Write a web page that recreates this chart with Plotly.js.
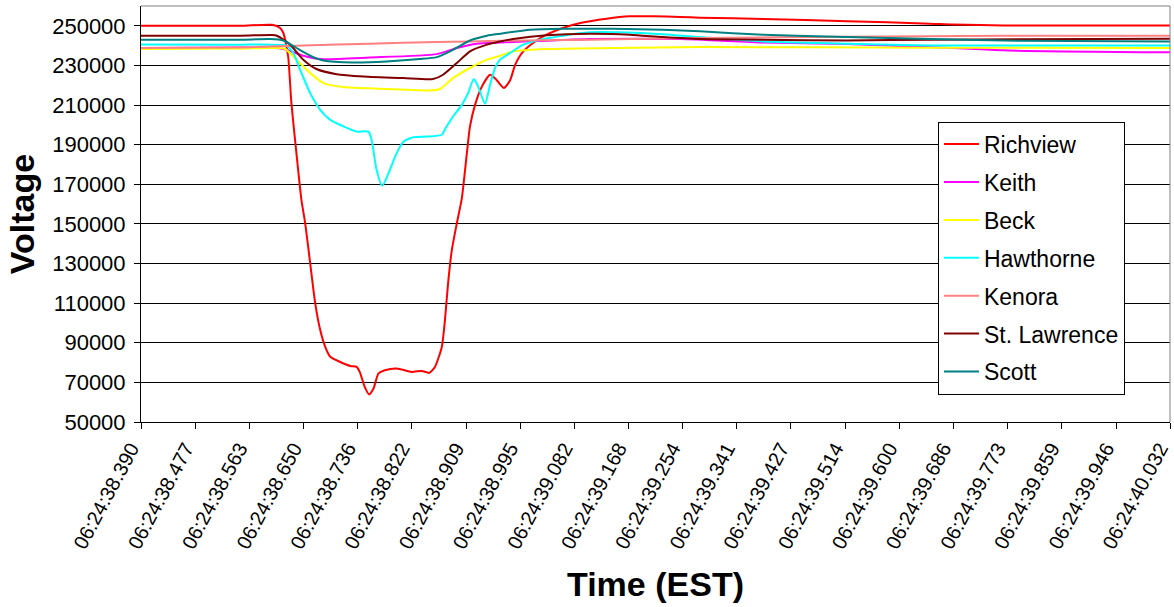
<!DOCTYPE html>
<html>
<head>
<meta charset="utf-8">
<script src="https://cdn.plot.ly/plotly-3.0.1.min.js"></script>
<style>html,body{margin:0;padding:0;background:#fff;}#chart{width:1174px;height:607px;}</style>
</head>
<body>
<div id="chart"></div>
<script>
// Tick labels on the time axis
const timeLabels = ["06:24:38.390","06:24:38.477","06:24:38.563","06:24:38.650","06:24:38.736","06:24:38.822","06:24:38.909","06:24:38.995","06:24:39.082","06:24:39.168","06:24:39.254","06:24:39.341","06:24:39.427","06:24:39.514","06:24:39.600","06:24:39.686","06:24:39.773","06:24:39.859","06:24:39.946","06:24:40.032"];
const voltageTicks = [50000,70000,90000,110000,130000,150000,170000,190000,210000,230000,250000];

// Series: time in seconds after 06:24:00, voltage in volts
const richviewT = [38.390,38.548,38.599,38.612,38.617,38.620,38.625,38.630,38.638,38.646,38.652,38.660,38.668,38.676,38.684,38.692,38.708,38.724,38.734,38.739,38.747,38.754,38.761,38.769,38.779,38.798,38.822,38.838,38.850,38.859,38.870,38.875,38.880,38.886,38.894,38.902,38.910,38.915,38.923,38.934,38.947,38.955,38.969,38.979,38.987,39.000,39.019,39.037,39.063,39.091,39.133,39.170,39.207,39.250,39.282,39.383,39.517,39.649,39.686,39.766,40.032];
const richviewV = [250000,250000,250500,248900,246500,243000,234000,211000,185700,162100,150300,130100,109900,96400,87900,82900,80300,78300,77800,75300,67700,63900,66900,74500,76100,77000,75300,75800,74800,77800,87900,101400,120000,136800,150300,163000,185700,199200,210100,219400,225300,223500,218600,222500,230300,237100,242100,245500,248900,251400,253600,254800,254800,254500,254100,253500,252300,251100,250600,250200,250100];

const keithT = [38.390,38.548,38.596,38.622,38.649,38.676,38.755,38.862,38.894,38.926,38.963,39.037,39.106,39.250,39.383,39.517,39.601,39.686,39.766,40.032];
const keithV = [238800,239000,239000,237900,234900,233200,234000,235700,238800,241000,241600,242500,243300,243300,241600,240800,239800,238800,237600,236600];

const beckT = [38.390,38.548,38.596,38.620,38.638,38.660,38.681,38.713,38.771,38.851,38.867,38.888,38.915,38.942,38.963,38.984,39.037,39.143,39.282,39.649,40.032];
const beckV = [238300,238500,238800,238300,232900,226200,221100,219100,218200,217400,218100,223600,228700,232900,234900,237100,238300,238800,239300,238900,238800];

const hawthorneT = [38.390,38.548,38.596,38.622,38.633,38.644,38.660,38.676,38.692,38.713,38.734,38.753,38.758,38.766,38.775,38.785,38.798,38.809,38.825,38.846,38.870,38.876,38.888,38.902,38.912,38.921,38.928,38.939,38.947,38.955,38.963,38.979,39.000,39.027,39.063,39.106,39.154,39.223,39.282,39.383,39.517,39.649,40.032];
const hawthorneV = [240600,240500,240500,240000,236300,227800,216000,207600,202500,199200,196600,196600,192400,177200,169200,175600,185700,191600,193800,194100,195000,198300,204200,210100,216000,223100,219400,210600,220200,228700,232900,236300,240500,243000,245000,246700,246700,245800,244300,242100,241000,240000,240000];

const kenoraT = [38.390,38.548,38.596,38.649,38.755,38.862,38.963,39.106,39.282,39.517,39.766,40.032];
const kenoraV = [238800,239100,239600,240000,241000,241800,242400,243000,243800,244500,245000,245000];

const stLawrenceT = [38.390,38.548,38.599,38.607,38.628,38.649,38.670,38.702,38.745,38.809,38.856,38.872,38.894,38.915,38.942,38.963,38.984,39.037,39.106,39.170,39.223,39.282,39.383,39.517,39.649,40.032];
const stLawrenceV = [245000,245000,245400,245000,240500,232900,228200,225600,224400,223600,223100,225300,231200,237100,240500,242100,243300,245200,246000,245500,244300,243300,243000,242600,243000,243500];

const scottT = [38.390,38.548,38.596,38.617,38.638,38.660,38.681,38.729,38.782,38.835,38.862,38.888,38.915,38.942,38.963,39.011,39.063,39.143,39.223,39.282,39.383,39.517,39.649,39.793,40.032];
const scottV = [243000,243000,243300,242600,238800,234900,232500,231500,232000,233200,234200,237900,242600,245000,246000,248000,248500,248500,248000,247200,245500,244300,243300,242400,242100];

const seriesNames = ["Richview","Keith","Beck","Hawthorne","Kenora","St. Lawrence","Scott"];
const seriesColors = ["#FF0000","#FF00FF","#FFFF00","#00FFFF","#FF8080","#800000","#008080"];
const seriesT = [richviewT,keithT,beckT,hawthorneT,kenoraT,stLawrenceT,scottT];
const seriesV = [richviewV,keithV,beckV,hawthorneV,kenoraV,stLawrenceV,scottV];

const tickVals = timeLabels.map(s => parseFloat(s.slice(6)));

const traces = seriesNames.map((n,i) => ({
  type: 'scatter', mode: 'lines', name: n,
  x: seriesT[i], y: seriesV[i],
  legendgroup: 'g'+i,
  line: {color: seriesColors[i], width: 2, shape: 'spline', smoothing: 0.6}
}));

const font = 'Arial, "Liberation Sans", sans-serif';
const eps = 1e-6;
const layout = {
  width: 1174, height: 607,
  margin: {l: 141, r: 4, t: 6, b: 185},
  paper_bgcolor: '#fff', plot_bgcolor: '#fff',
  showlegend: true,
  font: {family: font, color: '#000'},
  xaxis: {
    range: [tickVals[0] - eps, tickVals[tickVals.length-1] + eps],
    tickmode: 'array', tickvals: tickVals, ticktext: timeLabels,
    tickangle: -62, tickfont: {family: font, size: 20, color: '#000'},
    ticklabeloverflow: 'allow', ticklabelshift: -10,
    ticks: 'outside', ticklen: 6, tickcolor: '#000',
    showgrid: false, zeroline: false,
    showline: true, linecolor: '#000', linewidth: 1,
    title: {text: 'Time (EST)', font: {family: font, size: 34, color: '#000', weight: 'bold'}, standoff: 20}
  },
  yaxis: {
    range: [50000, 260000],
    tickmode: 'array', tickvals: voltageTicks, ticktext: voltageTicks.map(String),
    tickfont: {family: font, size: 22, color: '#000'},
    ticks: 'outside', ticklen: 6, tickcolor: '#000', ticklabelstandoff: 4,
    showgrid: true, gridcolor: '#000', gridwidth: 1,
    zeroline: false, showline: true, linecolor: '#000', linewidth: 1,
    title: {text: 'Voltage', font: {family: font, size: 34, color: '#000', weight: 'bold'}, standoff: 7}
  },
  legend: {
    x: 0.7745, y: 0.722, xanchor: 'left', yanchor: 'top',
    bgcolor: '#fff', bordercolor: '#000', borderwidth: 1,
    font: {family: font, size: 23, color: '#000'},
    tracegroupgap: 5, itemwidth: 35
  },
  shapes: [
    {type: 'line', xref: 'paper', yref: 'paper', x0: 0, x1: 1, y0: 1, y1: 1, line: {color: '#808080', width: 1}},
    {type: 'line', xref: 'paper', yref: 'paper', x0: 1, x1: 1, y0: 0, y1: 1, line: {color: '#808080', width: 1}}
  ]
};

Plotly.newPlot('chart', traces, layout, {displayModeBar: false, staticPlot: true});
</script>
</body>
</html>
